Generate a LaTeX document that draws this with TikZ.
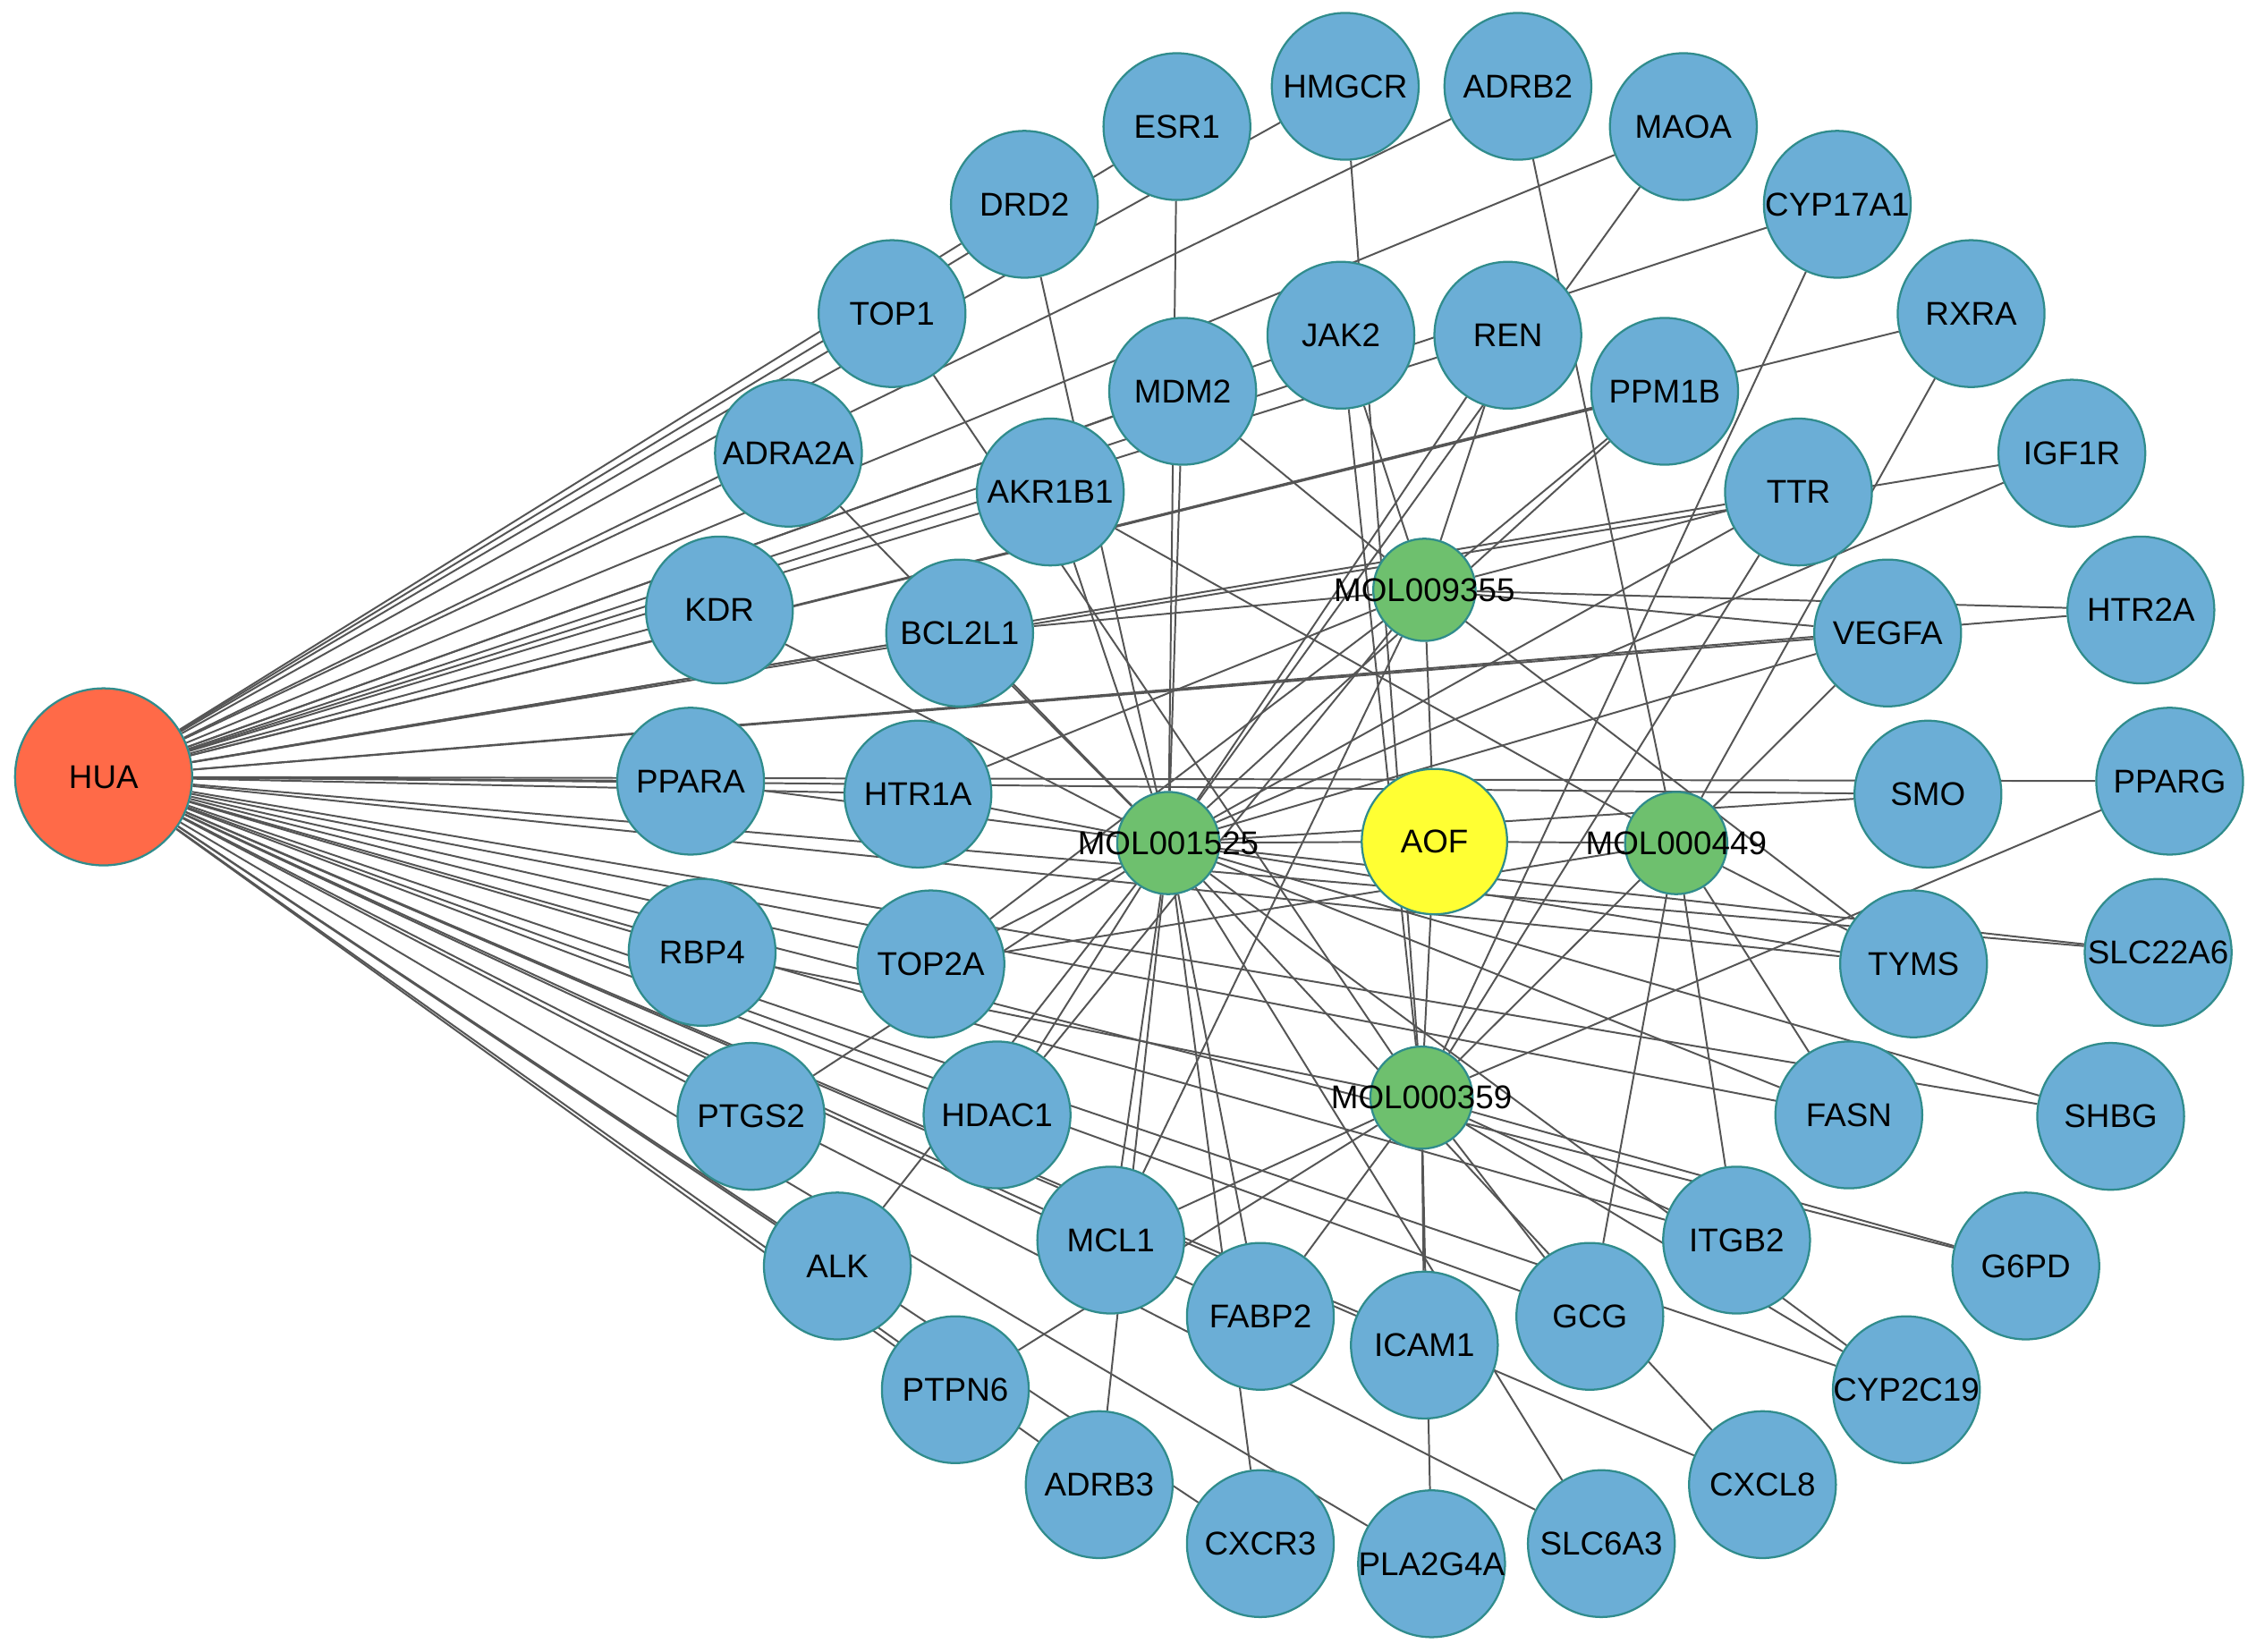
\documentclass[tikz,border=0pt]{standalone}
\usepackage{fontspec}
\setmainfont{Liberation Sans}
\usetikzlibrary{backgrounds}

\definecolor{targetblue}{RGB}{107,174,214}
\definecolor{molgreen}{RGB}{110,192,110}
\definecolor{drugyellow}{RGB}{255,255,51}
\definecolor{diseasered}{RGB}{255,106,72}
\definecolor{rimteal}{RGB}{48,140,140}
\definecolor{edgegray}{RGB}{85,85,85}

\tikzset{
	gene/.style={circle,draw=rimteal,line width=0.4pt,fill=targetblue,minimum size=1.02cm,inner sep=0pt},
	mol/.style={gene,fill=molgreen,minimum size=0.71cm},
	drug/.style={gene,fill=drugyellow,minimum size=1.01cm},
	disease/.style={gene,fill=diseasered,minimum size=1.23cm},
	link/.style={draw=edgegray,line width=0.35pt},
	every label/.style={inner sep=0pt,font=\fontsize{6.5}{7}\selectfont}
}

\begin{document}
\begin{tikzpicture}[x=0.01cm,y=-0.01cm]
	\useasboundingbox (0,0) rectangle (1568,1148);

	% disease, drug and compounds
	\node[disease,label={center:HUA}] (HUA) at (72,540) {};
	\node[drug,label={center:AOF}] (AOF) at (997,585) {};
	\node[mol,label={center:MOL009355}] (m9355) at (990,410) {};
	\node[mol,label={center:MOL001525}] (m1525) at (812,586) {};
	\node[mol,label={center:MOL000449}] (m0449) at (1165,586) {};
	\node[mol,label={center:MOL000359}] (m0359) at (988,763) {};

	% targets
	\foreach \g/\x/\y in {ESR1/818/88, HMGCR/935/60, ADRB2/1055/60, MAOA/1170/88,
		CYP17A1/1277/142, DRD2/712/142, TOP1/620/218, RXRA/1370/218,
		JAK2/932/233, REN/1048/233, MDM2/822/272, PPM1B/1157/272,
		ADRA2A/548/315, AKR1B1/730/342, TTR/1250/342, IGF1R/1440/315,
		KDR/500/424, BCL2L1/667/440, VEGFA/1312/440, HTR2A/1488/424,
		PPARA/480/543, HTR1A/638/552, SMO/1340/552, PPARG/1508/543,
		RBP4/488/662, TOP2A/647/670, TYMS/1330/670, SLC22A6/1500/662,
		PTGS2/522/776, HDAC1/693/775, FASN/1285/775, SHBG/1467/776,
		ALK/582/880, MCL1/772/862, ITGB2/1207/862, G6PD/1408/880,
		FABP2/876/915, ICAM1/990/935, GCG/1105/915, PTPN6/664/966,
		CYP2C19/1325/966, ADRB3/764/1032, CXCL8/1225/1032,
		CXCR3/876/1073, PLA2G4A/995/1087, SLC6A3/1113/1073}
		\node[gene,label={center:\g}] (\g) at (\x,\y) {};

	\begin{scope}[on background layer]
		% disease to every target
		\foreach \g in {ESR1,HMGCR,ADRB2,MAOA,CYP17A1,DRD2,TOP1,RXRA,JAK2,REN,MDM2,PPM1B,
			ADRA2A,AKR1B1,TTR,IGF1R,KDR,BCL2L1,VEGFA,HTR2A,PPARA,HTR1A,SMO,PPARG,
			RBP4,TOP2A,TYMS,SLC22A6,PTGS2,HDAC1,FASN,SHBG,ALK,MCL1,ITGB2,G6PD,
			FABP2,ICAM1,GCG,PTPN6,CYP2C19,ADRB3,CXCL8,CXCR3,PLA2G4A,SLC6A3}
			\draw[link] (HUA) -- (\g);

		% drug to compounds
		\foreach \m in {m9355,m1525,m0449,m0359}
			\draw[link] (AOF) -- (\m);

		% compounds to targets
		\foreach \g/\m in {ESR1/m1525, HMGCR/m0359, ADRB2/m0449, MAOA/m1525,
			CYP17A1/m0359, DRD2/m1525, TOP1/m0359, JAK2/m9355, JAK2/m0359,
			REN/m9355, REN/m1525, MDM2/m9355, MDM2/m1525, PPM1B/m9355, PPM1B/m1525,
			RXRA/m0449, ADRA2A/m1525, AKR1B1/m1525, AKR1B1/m0449,
			TTR/m9355, TTR/m1525, TTR/m0359, IGF1R/m1525, KDR/m1525,
			BCL2L1/m9355, BCL2L1/m1525, VEGFA/m9355, VEGFA/m1525, VEGFA/m0359,
			HTR2A/m9355, PPARA/m1525, HTR1A/m1525, HTR1A/m9355, SMO/m1525,
			PPARG/m0359, RBP4/m0359, TOP2A/m1525, TOP2A/m9355, TOP2A/m0449,
			TYMS/m9355, TYMS/m0449, TYMS/m1525, SLC22A6/m1525, PTGS2/m1525,
			HDAC1/m1525, HDAC1/m9355, FASN/m0449, FASN/m1525, SHBG/m1525,
			ALK/m1525, MCL1/m1525, MCL1/m0359, MCL1/m9355, ITGB2/m0359, ITGB2/m0449,
			G6PD/m0359, FABP2/m1525, FABP2/m0359, ICAM1/m0359, GCG/m0449, GCG/m0359,
			PTPN6/m0359, CYP2C19/m0359, CYP2C19/m1525, ADRB3/m1525, CXCL8/m1525,
			CXCR3/m1525, PLA2G4A/m0359, SLC6A3/m1525}
			\draw[link] (\g) -- (\m);
	\end{scope}
\end{tikzpicture}
\end{document}
